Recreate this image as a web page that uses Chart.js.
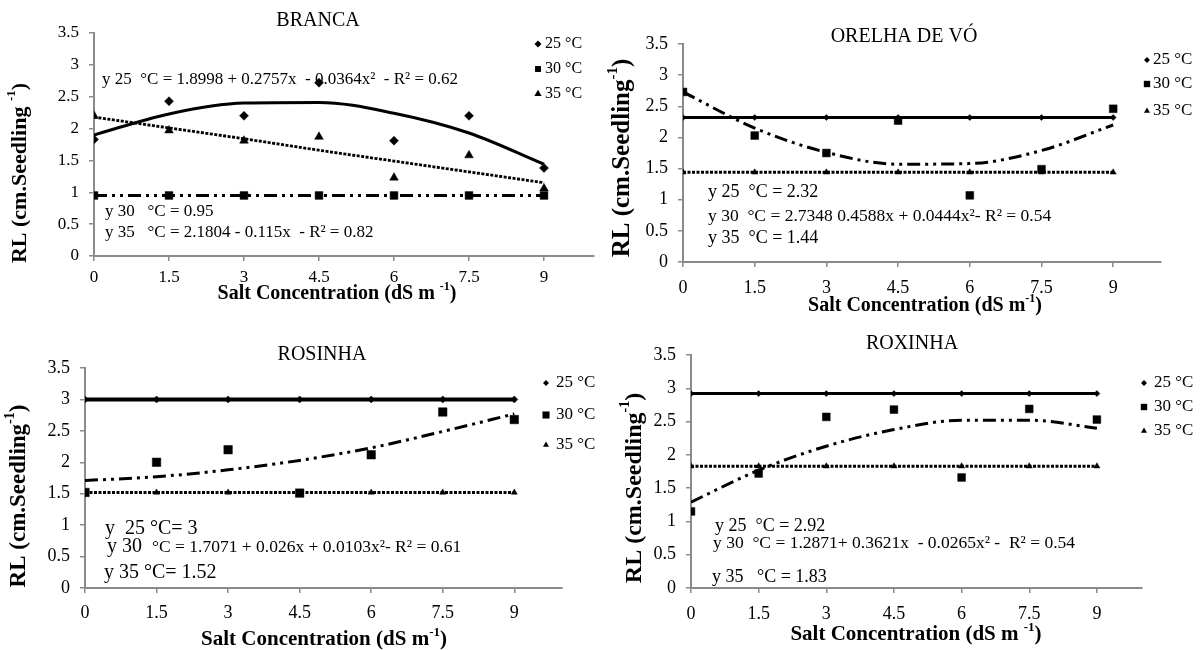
<!DOCTYPE html>
<html>
<head>
<meta charset="utf-8">
<script src="https://cdn.jsdelivr.net/npm/chart.js@4.4.1/dist/chart.umd.min.js"></script>
<style>
  html, body { margin: 0; padding: 0; background: #ffffff; }
  #wrap { position: relative; width: 1202px; height: 650px; overflow: hidden; background: #ffffff; }
  #wrap canvas { position: absolute; left: 0; top: 0; }
</style>
</head>
<body>
<div id="wrap">
  <canvas id="c1" width="1202" height="650"></canvas>
  <canvas id="c2" width="1202" height="650"></canvas>
  <canvas id="c3" width="1202" height="650"></canvas>
  <canvas id="c4" width="1202" height="650"></canvas>
</div>
<script>
// ---------------- DATA ----------------
const salt = [0, 1.5, 3, 4.5, 6, 7.5, 9];
const xTickValues = [0, 1.5, 3, 4.5, 6, 7.5, 9];
const yTickValues = [0, 0.5, 1, 1.5, 2, 2.5, 3, 3.5];
const seriesNames = ['25 °C', '30 °C', '35 °C'];
const panelTitles = ['BRANCA', 'ORELHA DE VÓ', 'ROSINHA', 'ROXINHA'];

// BRANCA
const branca25 = [1.83, 2.43, 2.20, 2.72, 1.81, 2.20, 1.38];
const branca30 = [0.95, 0.95, 0.95, 0.95, 0.95, 0.95, 0.95];
const branca35 = [2.20, 1.97, 1.81, 1.87, 1.23, 1.58, 1.06];
const branca25Fit = [1.90, 2.23, 2.40, 2.41, 2.24, 1.93, 1.44];
const branca30Fit = [0.95, 0.95, 0.95, 0.95, 0.95, 0.95, 0.95];
const branca35Fit = [2.18, 2.01, 1.84, 1.66, 1.49, 1.32, 1.15];
const brancaEquations = [
  ['y 25  °C = 1.8998 + 0.2757x  - 0.0364x²  - R² = 0.62'],
  ['y 30   °C = 0.95'],
  ['y 35   °C = 2.1804 - 0.115x  - R² = 0.82']
];

// ORELHA DE VÓ
const orelha25 = [2.32, 2.32, 2.32, 2.32, 2.32, 2.32, 2.32];
const orelha30 = [2.73, 2.03, 1.75, 2.27, 1.07, 1.49, 2.46];
const orelha35 = [1.44, 1.44, 1.44, 1.44, 1.44, 1.44, 1.44];
const orelha25Fit = [2.32, 2.32, 2.32, 2.32, 2.32, 2.32, 2.32];
const orelha30Fit = [2.73, 2.15, 1.76, 1.57, 1.58, 1.79, 2.20];
const orelha35Fit = [1.44, 1.44, 1.44, 1.44, 1.44, 1.44, 1.44];
const orelhaEquations = [
  ['y 25  °C = 2.32'],
  ['y 30  °C = 2.7348 0.4588x + 0.0444x²- R² = 0.54'],
  ['y 35  °C = 1.44']
];

// ROSINHA
const rosinha25 = [3, 3, 3, 3, 3, 3, 3];
const rosinha30 = [1.52, 2.00, 2.20, 1.51, 2.12, 2.80, 2.68];
const rosinha35 = [1.52, 1.52, 1.52, 1.52, 1.52, 1.52, 1.52];
const rosinha25Fit = [3, 3, 3, 3, 3, 3, 3];
const rosinha30Fit = [1.71, 1.77, 1.88, 2.03, 2.23, 2.49, 2.77];
const rosinha35Fit = [1.52, 1.52, 1.52, 1.52, 1.52, 1.52, 1.52];
const rosinhaEquations = [
  ['y  25 °C= 3'],
  ['y 30  ', '°C = 1.7071 + 0.026x + 0.0103x²- R² = 0.61'],
  ['y 35 °C= 1.52']
];

// ROXINHA
const roxinha25 = [2.92, 2.92, 2.92, 2.92, 2.92, 2.92, 2.92];
const roxinha30 = [1.15, 1.72, 2.57, 2.68, 1.66, 2.69, 2.53];
const roxinha35 = [1.83, 1.83, 1.83, 1.83, 1.83, 1.83, 1.83];
const roxinha25Fit = [2.92, 2.92, 2.92, 2.92, 2.92, 2.92, 2.92];
const roxinha30Fit = [1.29, 1.77, 2.13, 2.38, 2.52, 2.52, 2.40];
const roxinha35Fit = [1.83, 1.83, 1.83, 1.83, 1.83, 1.83, 1.83];
const roxinhaEquations = [
  ['y 25  °C = 2.92'],
  ['y 30  °C = 1.2871+ 0.3621x  - 0.0265x² -  R² = 0.54'],
  ['y 35   °C = 1.83']
];

const yTitleText = ['RL (cm.Seedling', '-1', ')'];
const xTitleText = ['Salt Concentration (dS m', '-1', ')'];

// ---------------- LAYOUT / STYLE ----------------
const W = 1202, H = 650;
const FONT = "'Liberation Serif', 'Times New Roman', serif";
const YW = 40, XH = 40;

const panels = [
  { id: 'c1', title: panelTitles[0], eqs: brancaEquations,
    pts: [branca25, branca30, branca35], fits: [branca25Fit, branca30Fit, branca35Fit],
    L: 94, R: 594, T: 33, B: 256, tickFont: 17, xPad: 6, yPad: 10,
    titlePos: { x: 318, y: 21, size: 20 },
    legend: { mx: 538, tx: 545, ys: [44, 69, 94], size: 16, r: [3.5, 4.2, 4.2] },
    eqPos: [{ x: 102, y: 80, sizes: [17] }, { x: 105, y: 212, sizes: [17] }, { x: 105, y: 233, sizes: [17] }],
    yTitle: { x: 20, y: 173, size: 22, gap: ' ' },
    xTitle: { x: 337, y: 294, size: 20, gap: ' ' },
    mr: [4.5, 5.5, 5], lw: [3, 3, 2.8] },
  { id: 'c2', title: panelTitles[1], eqs: orelhaEquations,
    pts: [orelha25, orelha30, orelha35], fits: [orelha25Fit, orelha30Fit, orelha35Fit],
    L: 683, R: 1161, T: 44, B: 262, tickFont: 18, xPad: 10, yPad: 10,
    titlePos: { x: 904, y: 37, size: 20 },
    legend: { mx: 1147, tx: 1153, ys: [60, 84, 111], size: 17, r: [3, 4.5, 3.5] },
    eqPos: [{ x: 708, y: 192, sizes: [18] }, { x: 708, y: 216, sizes: [17.5] }, { x: 708, y: 238, sizes: [18] }],
    yTitle: { x: 623, y: 158, size: 25, gap: '' },
    xTitle: { x: 925, y: 306, size: 20, gap: '' },
    mr: [3, 5.5, 3.5], lw: [3, 3, 3] },
  { id: 'c3', title: panelTitles[2], eqs: rosinhaEquations,
    pts: [rosinha25, rosinha30, rosinha35], fits: [rosinha25Fit, rosinha30Fit, rosinha35Fit],
    L: 85, R: 562, T: 368, B: 588, tickFont: 18, xPad: 9, yPad: 10,
    titlePos: { x: 322, y: 355, size: 20 },
    legend: { mx: 546, tx: 556, ys: [383, 415, 445], size: 17, r: [3, 5, 3.5] },
    eqPos: [{ x: 105, y: 529, sizes: [20] }, { x: 107, y: 547, sizes: [20, 17.5] }, { x: 104, y: 573, sizes: [20] }],
    yTitle: { x: 19, y: 496, size: 23, gap: '' },
    xTitle: { x: 324, y: 640, size: 21, gap: '' },
    mr: [3.5, 6, 3.5], lw: [4, 3, 3] },
  { id: 'c4', title: panelTitles[3], eqs: roxinhaEquations,
    pts: [roxinha25, roxinha30, roxinha35], fits: [roxinha25Fit, roxinha30Fit, roxinha35Fit],
    L: 691, R: 1142, T: 355, B: 588, tickFont: 18, xPad: 10, yPad: 10,
    titlePos: { x: 912, y: 344, size: 20 },
    legend: { mx: 1144, tx: 1154, ys: [383, 407, 431], size: 17, r: [3, 4.5, 3.5] },
    eqPos: [{ x: 715, y: 526, sizes: [18] }, { x: 713, y: 543, sizes: [17.5] }, { x: 712, y: 577, sizes: [18] }],
    yTitle: { x: 635, y: 488, size: 24, gap: '' },
    xTitle: { x: 916, y: 635, size: 21, gap: ' ' },
    mr: [3, 5.5, 3.5], lw: [3, 3, 3] }
];

const styles = ['rectRot', 'rect', 'triangle'];
const dashes = [[], [13, 5, 3, 5, 3, 5], [3, 1.5]];

// ---------------- DRAW HELPERS ----------------
function drawMarker(ctx, style, x, y, r) {
  ctx.beginPath();
  if (style === 'rectRot') {
    ctx.moveTo(x - r, y); ctx.lineTo(x, y - r); ctx.lineTo(x + r, y); ctx.lineTo(x, y + r);
  } else if (style === 'rect') {
    const s = r * Math.SQRT1_2; ctx.rect(x - s, y - s, 2 * s, 2 * s);
  } else {
    ctx.moveTo(x, y - r); ctx.lineTo(x + r * 0.866, y + r * 0.5); ctx.lineTo(x - r * 0.866, y + r * 0.5);
  }
  ctx.closePath();
  ctx.fillStyle = '#000';
  ctx.fill();
}

function drawRuns(ctx, runs, x, y, align) {
  let total = 0;
  runs.forEach(r => { ctx.font = (r.bold ? 'bold ' : '') + r.size + 'px ' + FONT; r.w = ctx.measureText(r.t).width; total += r.w; });
  let cx = align === 'center' ? x - total / 2 : x;
  ctx.textAlign = 'left';
  ctx.textBaseline = 'middle';
  runs.forEach(r => {
    ctx.font = (r.bold ? 'bold ' : '') + r.size + 'px ' + FONT;
    ctx.fillText(r.t, cx, y + (r.dy || 0));
    cx += r.w;
  });
}

const panelText = {
  id: 'panelText',
  afterDraw(chart, args, o) {
    const p = o.p;
    const ctx = chart.ctx;
    ctx.save();
    ctx.fillStyle = '#000';
    drawRuns(ctx, [{ t: p.title, size: p.titlePos.size }], p.titlePos.x, p.titlePos.y, 'center');
    for (let i = 0; i < 3; i++) {
      drawMarker(ctx, styles[i], p.legend.mx, p.legend.ys[i], p.legend.r[i]);
      ctx.fillStyle = '#000';
      drawRuns(ctx, [{ t: seriesNames[i], size: p.legend.size }], p.legend.tx, p.legend.ys[i], 'left');
    }
    p.eqs.forEach((parts, i) => {
      const pos = p.eqPos[i];
      drawRuns(ctx, parts.map((t, k) => ({ t: t, size: pos.sizes[k] })), pos.x, pos.y, 'left');
    });
    const xs = p.xTitle.size;
    drawRuns(ctx, [
      { t: xTitleText[0] + p.xTitle.gap, size: xs, bold: true },
      { t: xTitleText[1], size: Math.round(xs * 0.62), bold: true, dy: -xs * 0.36 },
      { t: xTitleText[2], size: xs, bold: true }
    ], p.xTitle.x, p.xTitle.y, 'center');
    const ys = p.yTitle.size;
    ctx.translate(p.yTitle.x, p.yTitle.y);
    ctx.rotate(-Math.PI / 2);
    drawRuns(ctx, [
      { t: yTitleText[0] + p.yTitle.gap, size: ys, bold: true },
      { t: yTitleText[1], size: Math.round(ys * 0.6), bold: true, dy: -ys * 0.38 },
      { t: yTitleText[2], size: ys, bold: true }
    ], 0, 0, 'center');
    ctx.restore();
  }
};

function toXY(vals) { return salt.map((x, i) => ({ x: x, y: vals[i] })); }

panels.forEach(p => {
  const datasets = [];
  for (let i = 0; i < 3; i++) {
    datasets.push({
      label: seriesNames[i],
      data: toXY(p.pts[i]),
      showLine: false,
      pointStyle: styles[i],
      pointRadius: p.mr[i],
      pointBackgroundColor: '#000',
      pointBorderColor: '#000',
      pointBorderWidth: 0.5
    });
  }
  for (let i = 0; i < 3; i++) {
    datasets.push({
      label: seriesNames[i] + ' fit',
      data: toXY(p.fits[i]),
      showLine: true,
      pointRadius: 0,
      borderColor: '#000',
      borderWidth: p.lw[i],
      borderDash: dashes[i],
      borderCapStyle: 'butt',
      cubicInterpolationMode: 'monotone',
      fill: false
    });
  }
  const tickFont = { family: FONT, size: p.tickFont };
  new Chart(document.getElementById(p.id), {
    type: 'scatter',
    data: { datasets },
    plugins: [panelText],
    options: {
      responsive: false,
      animation: false,
      devicePixelRatio: 1,
      events: [],
      layout: { padding: { left: p.L - YW, top: p.T, right: W - p.R, bottom: H - p.B - XH } },
      plugins: {
        legend: { display: false },
        tooltip: { enabled: false },
        panelText: { p: p }
      },
      scales: {
        x: {
          type: 'linear', min: 0, max: 10,
          afterBuildTicks: s => { s.ticks = xTickValues.map(v => ({ value: v })); },
          afterFit: s => { s.height = XH; },
          border: { display: true, color: '#8a8a8a', width: 2 },
          grid: { drawOnChartArea: false, drawTicks: true, tickLength: 5, color: '#8a8a8a', lineWidth: 1.5 },
          ticks: { color: '#000', font: tickFont, padding: p.xPad, maxRotation: 0, autoSkip: false, callback: v => String(v) }
        },
        y: {
          type: 'linear', min: 0, max: 3.5,
          afterBuildTicks: s => { s.ticks = yTickValues.map(v => ({ value: v })); },
          afterFit: s => { s.width = YW; },
          border: { display: true, color: '#8a8a8a', width: 2 },
          grid: { drawOnChartArea: false, drawTicks: true, tickLength: 5, color: '#8a8a8a', lineWidth: 1.5 },
          ticks: { color: '#000', font: tickFont, padding: p.yPad, autoSkip: false, callback: v => String(v) }
        }
      }
    }
  });
});
</script>
</body>
</html>
